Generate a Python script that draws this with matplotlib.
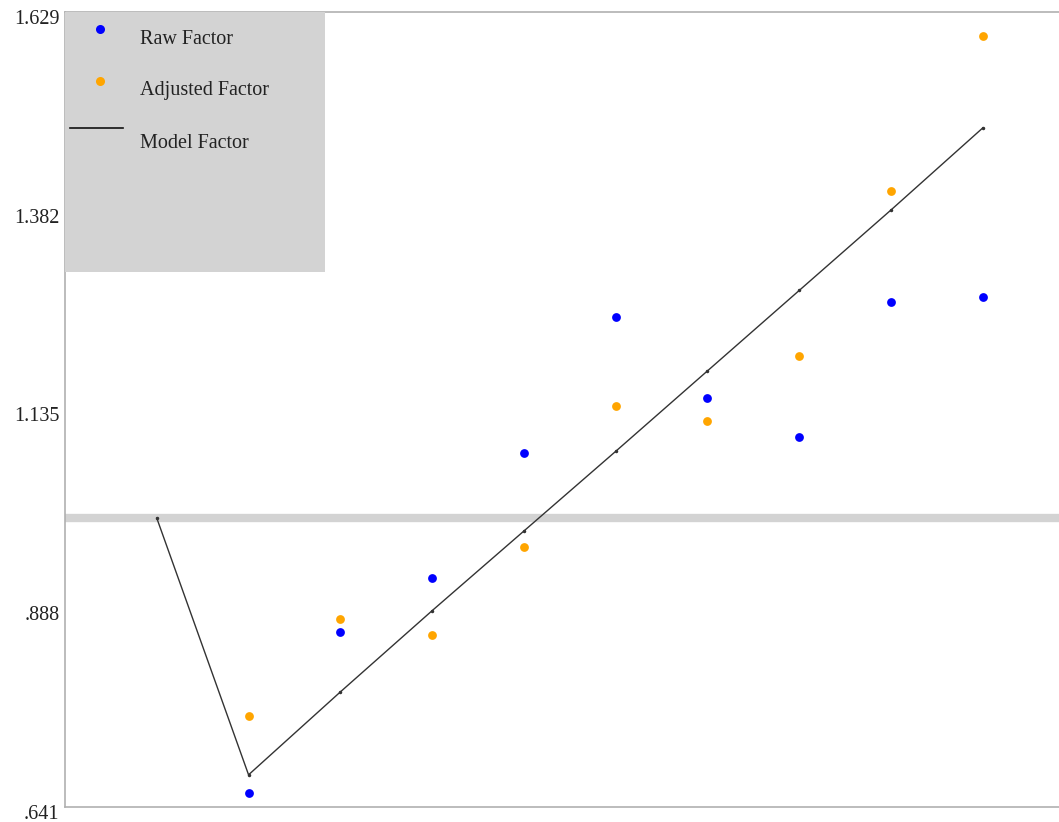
import matplotlib
matplotlib.use("Agg")
import matplotlib.pyplot as plt
import matplotlib.transforms as mtransforms
from matplotlib.patches import Rectangle

# data
periods = list(range(10))
raw_factor = [None, 0.658, 0.858, 0.926, 1.081, 1.250, 1.149, 1.101, 1.269, 1.275]
adjusted_factor = [None, 0.754, 0.875, 0.855, 0.964, 1.139, 1.121, 1.201, 1.406, 1.599]
model_factor = [1.0, 0.681, 0.784, 0.885, 0.984, 1.083, 1.183, 1.283, 1.383, 1.485]
ytick_values = [0.641, 0.888, 1.135, 1.382, 1.629]
ytick_labels = [".641", ".888", "1.135", "1.382", "1.629"]
baseline = 1.0

plt.rcParams['font.family'] = ['Liberation Serif', 'DejaVu Serif']
FS = 14.5

fig = plt.figure(figsize=(10.59, 8.22), dpi=100)
ax = fig.add_axes([65 / 1059, 1 - 807 / 822, 994 / 1059, 795 / 822])

ax.axhline(baseline, color='#d3d3d3', linewidth=6, zorder=1)

ax.plot(periods, model_factor, color='#333333', linewidth=1.0,
        marker='o', markersize=1.5, zorder=2)

rx = [p for p, v in zip(periods, raw_factor) if v is not None]
ry = [v for v in raw_factor if v is not None]
adx = [p for p, v in zip(periods, adjusted_factor) if v is not None]
ady = [v for v in adjusted_factor if v is not None]
ax.scatter(rx, ry, s=40, color='#0000ff', zorder=3, linewidths=0)
ax.scatter(adx, ady, s=40, color='#ffa500', zorder=3, linewidths=0)

ax.set_xlim(-1, 9.83)
ax.set_ylim(0.641, 1.629)
ax.set_xticks([])
ax.set_yticks(ytick_values)
ax.set_yticklabels(ytick_labels, fontsize=FS, color='#222222')
ax.tick_params(axis='y', length=0, pad=4)
offset = mtransforms.ScaledTranslation(0, -5 / 100, fig.dpi_scale_trans)
for lbl in ax.get_yticklabels():
    lbl.set_transform(lbl.get_transform() + offset)

for side in ['left', 'top', 'bottom']:
    ax.spines[side].set_color('#b0b0b0')
    ax.spines[side].set_linewidth(1.2)
ax.spines['right'].set_visible(False)

# legend box
ax.add_patch(Rectangle((0, 0.673), 0.2616, 0.327, transform=ax.transAxes,
                       facecolor='#d3d3d3', edgecolor='none', zorder=4))
ax.plot([0.0352], [0.9786], 'o', color='#0000ff', markersize=6.5,
        markeredgewidth=0, transform=ax.transAxes, zorder=5, clip_on=False)
ax.text(0.0755, 0.9655, 'Raw Factor', transform=ax.transAxes, fontsize=FS,
        va='center', color='#222222', zorder=5)
ax.plot([0.0352], [0.9132], 'o', color='#ffa500', markersize=6.5,
        markeredgewidth=0, transform=ax.transAxes, zorder=5, clip_on=False)
ax.text(0.0755, 0.9015, 'Adjusted Factor', transform=ax.transAxes, fontsize=FS,
        va='center', color='#222222', zorder=5)
ax.plot([0.005, 0.0584], [0.854, 0.854], color='#111111', linewidth=1.2,
        transform=ax.transAxes, zorder=5)
ax.text(0.0755, 0.8350, 'Model Factor', transform=ax.transAxes, fontsize=FS,
        va='center', color='#222222', zorder=5)

fig.savefig('out.png', dpi=100)
